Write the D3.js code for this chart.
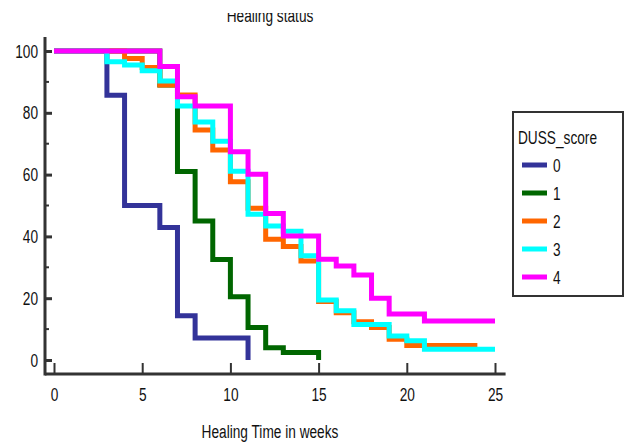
<!DOCTYPE html>
<html>
<head>
<meta charset="utf-8">
<style>
  body { margin: 0; background: #fff; }
  svg { display: block; font-family: 'Liberation Sans', Arial, sans-serif; }
</style>
</head>
<body>
<svg width="624" height="443"></svg>
<script src="https://d3js.org/d3.v7.min.js"></script>
<script>
// Kaplan-Meier style healing curves
const scores = ["0", "1", "2", "3", "4"];
const colors = ["#333399", "#006600", "#ff6600", "#00ffff", "#ff00ff"];

const times0 = [0, 3, 4, 6, 7, 8, 11];
const surv0  = [100, 85.7, 50, 42.9, 14.3, 7.1, 0];

const times1 = [0, 6, 7, 8, 9, 10, 11, 12, 13, 15];
const surv1  = [100, 89, 61, 45, 32.5, 20.5, 10.5, 4, 2.4, 0];

const times2 = [0, 4, 5, 6, 7, 8, 9, 10, 11, 12, 13, 14, 15, 16, 17, 18, 19, 20, 24];
const surv2  = [100, 97.6, 94.7, 89, 85.8, 74.4, 68, 57.7, 49.1, 39.1, 36.7, 32, 18.9, 15.3, 12.4, 10.5, 6.7, 4.7, 4.7];

const times3 = [0, 3, 4, 5, 6, 7, 8, 9, 10, 11, 12, 13, 14, 15, 16, 17, 19, 20, 21, 25];
const surv3  = [100, 96.5, 95.5, 93.6, 90.3, 82.2, 77, 70.8, 61.1, 47.2, 43.4, 41.7, 33.7, 19.4, 15.9, 11.5, 7.8, 6.2, 3.5, 3.5];

const times4 = [0, 6, 7, 8, 10, 11, 12, 13, 15, 16, 17, 18, 19, 21, 25];
const surv4  = [100, 95, 85.2, 82.2, 67.4, 60.1, 47.4, 40.1, 32.6, 30.4, 27.5, 20, 14.9, 12.6, 12.6];

const xTicks = [0, 5, 10, 15, 20, 25];
const yTicks = [0, 20, 40, 60, 80, 100];
const yMinor = [10, 30, 50, 70, 90];

const series = [
  d3.zip(times0, surv0),
  d3.zip(times1, surv1),
  d3.zip(times2, surv2),
  d3.zip(times3, surv3),
  d3.zip(times4, surv4)
];

// the original uses a tall, condensed font - squeeze a normal one
const fs = 19, sq = 0.72;

const svg = d3.select("svg");

const x = d3.scaleLinear().domain([0, 25]).range([54, 495]);
const y = d3.scaleLinear().domain([0, 100]).range([360, 51]);

const axisY = 374, axisX = 45;

// axis frame lines
svg.append("line")
  .attr("x1", axisX).attr("x2", x(25.6))
  .attr("y1", axisY).attr("y2", axisY)
  .attr("stroke", "#333").attr("stroke-width", 3);
svg.append("line")
  .attr("x1", axisX).attr("x2", axisX)
  .attr("y1", y(104.5)).attr("y2", axisY + 1.5)
  .attr("stroke", "#333").attr("stroke-width", 3);

// x axis, ticks pointing inward
const gx = svg.append("g")
  .attr("transform", `translate(0,${axisY})`)
  .call(d3.axisBottom(x).tickValues(xTicks).tickSize(-11).tickPadding(14));
gx.select(".domain").remove();
gx.selectAll(".tick line").attr("stroke", "#333").attr("stroke-width", 2);
gx.selectAll(".tick text")
  .attr("font-family", null).attr("font-size", null)
  .style("font-size", fs + "px").attr("fill", "#111")
  .attr("transform", `scale(${sq},1)`);

// y axis
const gy = svg.append("g")
  .attr("transform", `translate(${axisX},0)`)
  .call(d3.axisLeft(y).tickValues(yTicks).tickSize(-7).tickPadding(7));
gy.select(".domain").remove();
gy.selectAll(".tick line").attr("stroke", "#333").attr("stroke-width", 3);
gy.selectAll(".tick text")
  .style("font-size", fs + "px").attr("fill", "#111")
  .attr("x", -7 / sq)
  .attr("transform", `scale(${sq},1)`);
gx.attr("font-family", null);
gy.attr("font-family", null);

svg.append("g")
  .selectAll("line")
  .data(yMinor)
  .join("line")
  .attr("x1", axisX).attr("x2", axisX + 4)
  .attr("y1", d => y(d)).attr("y2", d => y(d))
  .attr("stroke", "#333").attr("stroke-width", 2);

// step curves
const line = d3.line()
  .x(d => x(d[0]))
  .y(d => y(d[1]))
  .curve(d3.curveStepAfter);

svg.append("g")
  .selectAll("path")
  .data(series)
  .join("path")
  .attr("d", line)
  .attr("fill", "none")
  .attr("stroke", (d, i) => colors[i])
  .attr("stroke-width", 5)
  .attr("stroke-linecap", "butt");

// squeezed text helper
function label(g, tx, ty, str, anchor) {
  return g.append("text")
    .attr("transform", `translate(${tx},${ty}) scale(${sq},1)`)
    .attr("text-anchor", anchor || "start")
    .style("font-size", fs + "px")
    .attr("fill", "#111")
    .text(str);
}

// titles (the top one is cut off in the original)
svg.append("clipPath").attr("id", "topclip")
  .append("rect").attr("x", 0).attr("y", 13).attr("width", 624).attr("height", 430);
label(svg.append("g").attr("clip-path", "url(#topclip)"), 270, 22, "Healing status", "middle");
label(svg, 270, 438, "Healing Time in weeks", "middle");

// legend
const lg = svg.append("g").attr("transform", "translate(513,112)");
lg.append("rect")
  .attr("width", 110).attr("height", 184)
  .attr("fill", "#fff").attr("stroke", "#333").attr("stroke-width", 2);
label(lg, 5, 32, "DUSS_score");

const items = lg.selectAll(".item")
  .data(scores)
  .join("g")
  .attr("class", "item")
  .attr("transform", (d, i) => `translate(0,${53 + i * 28})`);
items.append("line")
  .attr("x1", 9).attr("x2", 34)
  .attr("stroke", (d, i) => colors[i])
  .attr("stroke-width", 5);
items.each(function (d) { label(d3.select(this), 40, 7, d); });
</script>
</body>
</html>
